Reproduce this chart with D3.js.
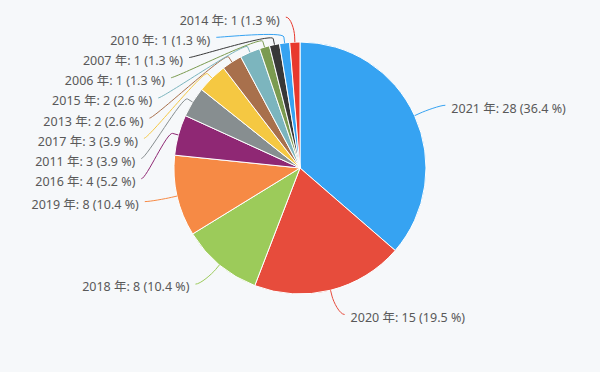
<!DOCTYPE html>
<html>
<head>
<meta charset="utf-8">
<script src="https://cdn.jsdelivr.net/npm/d3@7"></script>
<style>
html, body { margin: 0; padding: 0; background: #f6f8fa; }
svg { display: block; font-family: "Noto Sans", "Noto Sans CJK JP", sans-serif; }
</style>
</head>
<body>
<svg width="600" height="372"></svg>
<script>
var years = ["2021", "2020", "2018", "2019", "2016", "2011", "2017", "2013", "2015", "2006", "2007", "2010", "2014"];
var counts = [28, 15, 8, 8, 4, 3, 3, 2, 2, 1, 1, 1, 1];
var colors = ["#36a3f2", "#e74c3c", "#9ccb5a", "#f68a45", "#8f2874", "#878e90", "#f5c842",
              "#a8704c", "#7cb5be", "#7b9b50", "#383838", "#36a3f2", "#e8392d"];

var svg = d3.select("svg"),
    cx = 300, cy = 168, r = 126,
    labelR = 151, lineH = 20.2, minY = 15;

var data = years.map(function (y, i) { return { year: y, count: counts[i], color: colors[i] }; });
var total = d3.sum(counts);

var pie = d3.pie().sort(null).value(function (d) { return d.count; });
var arc = d3.arc().innerRadius(0).outerRadius(r);
var arcs = pie(data);

var g = svg.append("g").attr("transform", "translate(" + cx + "," + cy + ")");

// slices
g.selectAll(".slice")
    .data(arcs)
    .enter().append("path")
    .attr("class", "slice")
    .attr("d", arc)
    .attr("fill", function (d) { return d.data.color; })
    .attr("stroke", "#ffffff")
    .attr("stroke-width", 1);

// label positions: natural spot, then pushed apart on each side
arcs.forEach(function (a) {
    a.mid = (a.startAngle + a.endAngle) / 2;
    a.right = a.mid < Math.PI;
    a.ny = -Math.cos(a.mid) * labelR;
});
[true, false].forEach(function (side) {
    var list = arcs.filter(function (a) { return a.right === side; })
        .sort(function (a, b) { return a.ny - b.ny; });
    var prev = -Infinity;
    list.forEach(function (a) {
        a.ly = Math.max(a.ny, prev + lineH, minY - cy);
        prev = a.ly;
        var dx = Math.sqrt(Math.max(0, labelR * labelR - a.ly * a.ly));
        a.lx = a.right ? dx : -dx;
    });
});

function pct(v) { return (v / total * 100).toFixed(1); }

// connectors
g.selectAll(".conn")
    .data(arcs)
    .enter().append("path")
    .attr("class", "conn")
    .attr("fill", "none")
    .attr("stroke", function (d) { return d.data.color; })
    .attr("stroke-width", 1)
    .attr("d", function (d) {
        var s = d.right ? 1 : -1;
        var sx = d.lx + s * 8, sy = d.ly;
        var tx = Math.sin(d.mid) * r, ty = -Math.cos(d.mid) * r;
        var bx = Math.sin(d.mid) * (r + 6), by = -Math.cos(d.mid) * (r + 6);
        return "M" + sx + "," + sy +
            "C" + (sx - s * 5) + "," + sy + " " + (2 * bx - tx) + "," + (2 * by - ty) + " " + bx + "," + by +
            "L" + tx + "," + ty;
    });

// labels
g.selectAll(".label")
    .data(arcs)
    .enter().append("text")
    .attr("class", "label")
    .attr("x", function (d) { return d.lx + (d.right ? 14 : -14); })
    .attr("y", function (d) { return d.ly + 3; })
    .attr("dy", "0.35em")
    .attr("text-anchor", function (d) { return d.right ? "start" : "end"; })
    .style("font-size", "12.5px")
    .style("fill", "#595959")
    .text(function (d) { return d.data.year + " 年: " + d.data.count + " (" + pct(d.data.count) + " %)"; });
</script>
</body>
</html>
